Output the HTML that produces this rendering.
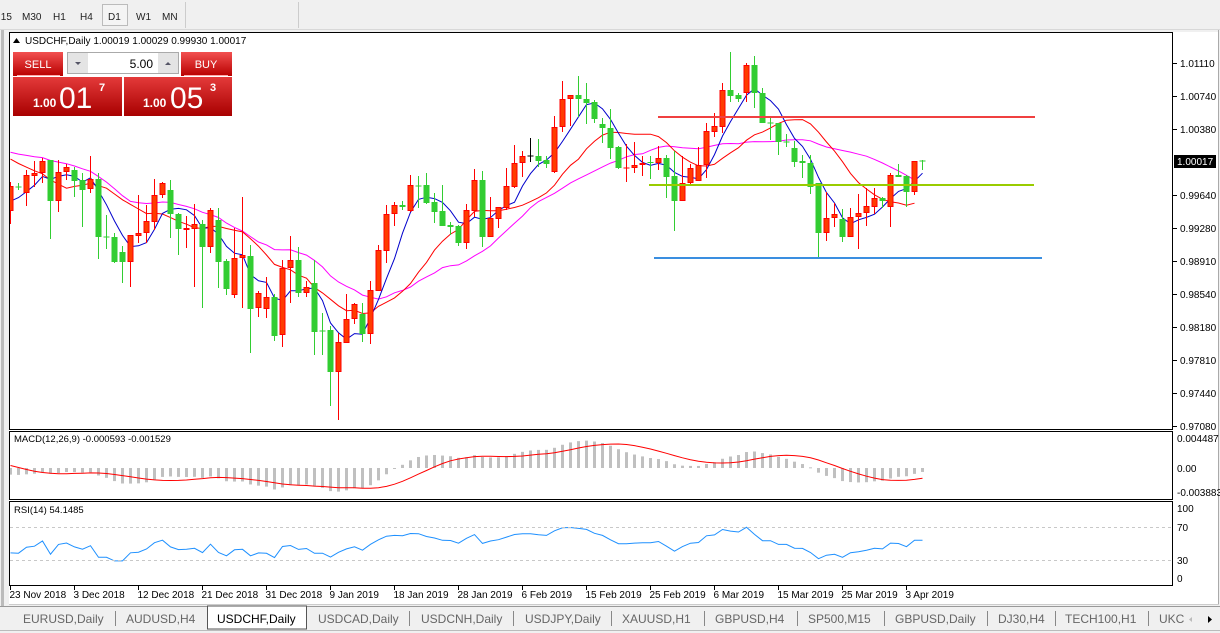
<!DOCTYPE html>
<html><head><meta charset="utf-8"><style>
html,body{margin:0;padding:0;background:#f0f0f0;width:1220px;height:633px;overflow:hidden}
svg{display:block}
text{font-family:"Liberation Sans",sans-serif}
</style></head><body>
<svg id="s" width="1220" height="633" xmlns="http://www.w3.org/2000/svg">
<rect x="0" y="0" width="1220" height="633" fill="#f0f0f0"/>
<rect x="0" y="0" width="1220" height="29" fill="#f0f0f0"/>
<line x1="0" y1="29.5" x2="1220" y2="29.5" stroke="#d8d8d8"/>
<g font-size="10" fill="#222">
<text x="-2" y="20">I15</text><text x="22" y="20">M30</text><text x="53" y="20">H1</text><text x="80" y="20">H4</text>
<rect x="102.5" y="4.5" width="25" height="21" fill="#f4f4f4" stroke="#bbb"/><text x="108" y="20">D1</text>
<text x="136" y="20">W1</text><text x="162" y="20">MN</text></g>
<line x1="185.5" y1="2" x2="185.5" y2="28" stroke="#ccc"/>
<line x1="298.5" y1="2" x2="298.5" y2="28" stroke="#ccc"/>
<rect x="9" y="32" width="1210" height="572" fill="#fff"/>
<line x1="2.5" y1="30" x2="2.5" y2="606" stroke="#bbb" stroke-width="3"/>
<line x1="1218.5" y1="30" x2="1218.5" y2="604" stroke="#aaa"/>
<g fill="none" stroke="#000">
<rect x="9.5" y="32.5" width="1163" height="397"/>
<rect x="9.5" y="431.5" width="1163" height="68"/>
<rect x="9.5" y="501.5" width="1163" height="84"/>
</g>
<line x1="9" y1="604.5" x2="1219" y2="604.5" stroke="#ccc"/>
<g id="plot"></g>
<line x1="658" y1="117" x2="1035" y2="117" stroke="#f04040" stroke-width="2"/>
<line x1="649" y1="185" x2="1034" y2="185" stroke="#99cc00" stroke-width="2"/>
<line x1="654" y1="258" x2="1042" y2="258" stroke="#3a8ee0" stroke-width="2"/>
<path d="M13 43 L16.5 38 L20 43 Z" fill="#000"/>
<text x="25" y="44" font-size="10" fill="#000">USDCHF,Daily  1.00019 1.00029 0.99930 1.00017</text>
<defs>
<linearGradient id="rg" x1="0" y1="0" x2="0" y2="1"><stop offset="0" stop-color="#f25050"/><stop offset="1" stop-color="#b80000"/></linearGradient>
<linearGradient id="rg2" x1="0" y1="0" x2="0" y2="1"><stop offset="0" stop-color="#e43a3a"/><stop offset="1" stop-color="#a80000"/></linearGradient>
<clipPath id="cm"><rect x="10" y="33" width="1162" height="396"/></clipPath>
<clipPath id="cd"><rect x="10" y="432" width="1162" height="67"/></clipPath>
<clipPath id="cr"><rect x="10" y="502" width="1162" height="83"/></clipPath>
</defs>
<rect x="13" y="52" width="50" height="24" fill="url(#rg)"/>
<rect x="181" y="52" width="51" height="24" fill="url(#rg)"/>
<line x1="17" y1="75.5" x2="60" y2="75.5" stroke="#ffaaaa"/>
<line x1="184" y1="75.5" x2="228" y2="75.5" stroke="#ffaaaa"/>
<text x="38" y="68" font-size="11" fill="#fff" text-anchor="middle">SELL</text>
<text x="206" y="68" font-size="11" fill="#fff" text-anchor="middle">BUY</text>
<rect x="67.5" y="52.5" width="111" height="21" fill="#fff" stroke="#aaa"/>
<rect x="68" y="53" width="20" height="20" fill="#e4e4e4"/>
<rect x="158" y="53" width="20" height="20" fill="#e4e4e4"/>
<path d="M75 62 L81 62 L78 65Z" fill="#556"/><path d="M165 65 L171 65 L168 62Z" fill="#556"/>
<text x="153" y="68" font-size="12" fill="#000" text-anchor="end">5.00</text>
<rect x="13" y="77" width="109" height="39" fill="url(#rg2)"/>
<rect x="124" y="77" width="108" height="39" fill="url(#rg2)"/>
<g fill="#fff"><text x="33" y="107" font-size="12" font-weight="bold">1.00</text>
<text x="59" y="108" font-size="30">01</text><text x="99" y="91" font-size="11" font-weight="bold">7</text>
<text x="143" y="107" font-size="12" font-weight="bold">1.00</text>
<text x="170" y="108" font-size="30">05</text><text x="210" y="91" font-size="11" font-weight="bold">3</text></g>
<g font-size="10" fill="#000" id="ax"></g>
<rect x="1174" y="155" width="42" height="13" fill="#000"/>
<text x="1177" y="165" font-size="10" fill="#fff">1.00017</text>
<text x="14" y="442" font-size="9.5" fill="#000">MACD(12,26,9) -0.000593 -0.001529</text>
<text x="14" y="513" font-size="9.5" fill="#000">RSI(14) 54.1485</text>
<g stroke="#c8c8c8" stroke-dasharray="3,3"><line x1="10" y1="527.5" x2="1172" y2="527.5"/><line x1="10" y1="560.5" x2="1172" y2="560.5"/></g>
<g font-size="10" fill="#000">
<text x="1177" y="442">0.004487</text><text x="1177" y="472">0.00</text><text x="1177" y="496">-0.003883</text>
<text x="1177" y="512">100</text><text x="1177" y="531">70</text><text x="1177" y="564">30</text><text x="1177" y="582">0</text></g>
<g id="dates" font-size="10" fill="#000"></g>
<rect x="0" y="606" width="1220" height="27" fill="#f0f0f0"/>
<line x1="0" y1="606.5" x2="1220" y2="606.5" stroke="#999"/>
<line x1="0" y1="630.5" x2="1220" y2="630.5" stroke="#bbb"/>
<rect x="207.5" y="606" width="99" height="23" fill="#fff" stroke="#555"/>
<g font-size="12" fill="#666">
<text x="23" y="623">EURUSD,Daily</text><text x="126" y="623">AUDUSD,H4</text>
<text x="217" y="623" fill="#000">USDCHF,Daily</text><text x="318" y="623">USDCAD,Daily</text>
<text x="421" y="623">USDCNH,Daily</text><text x="525" y="623">USDJPY,Daily</text>
<text x="622" y="623">XAUUSD,H1</text><text x="715" y="623">GBPUSD,H4</text>
<text x="808" y="623">SP500,M15</text><text x="895" y="623">GBPUSD,Daily</text>
<text x="998" y="623">DJ30,H4</text><text x="1065" y="623">TECH100,H1</text><text x="1159" y="623">UKC</text></g>
<g stroke="#888"><line x1="115.5" y1="611" x2="115.5" y2="626"/><line x1="409.5" y1="611" x2="409.5" y2="626"/><line x1="513.5" y1="611" x2="513.5" y2="626"/><line x1="611.5" y1="611" x2="611.5" y2="626"/><line x1="704.5" y1="611" x2="704.5" y2="626"/><line x1="797.5" y1="611" x2="797.5" y2="626"/><line x1="884.5" y1="611" x2="884.5" y2="626"/><line x1="987.5" y1="611" x2="987.5" y2="626"/><line x1="1055.5" y1="611" x2="1055.5" y2="626"/><line x1="1148.5" y1="611" x2="1148.5" y2="626"/></g>
<path d="M1192 617 L1189 619.5 L1192 622Z" fill="#bbb"/><path d="M1208 616 L1212 619.5 L1208 623Z" fill="#000"/>
</svg>
<script>
var D=[
['r',186,211,182,224],['g',187,187,183,190],['r',175,193,170,206],['r',173,176,161,187],['r',161,173,158,183],['g',160,201,160,239],['r',172,201,160,212],['r',167,172,164,180],['g',170,181,167,197],['g',180,190,173,227],
['r',179,189,156,193],['g',179,237,173,259],['g',237,237,215,249],['g',237,262,233,263],['g',252,262,246,283],['r',235,262,235,287],['r',233,236,195,243],['r',221,233,205,243],['r',195,222,179,230],['r',183,195,182,198],
['g',190,214,180,238],['g',214,229,213,255],['r',228,230,216,248],['r',224,229,204,287],['g',224,247,220,308],['r',210,247,208,253],['g',220,262,208,288],['g',261,289,259,295],['r',258,295,228,298],['r',255,258,197,308],
['g',256,309,245,353],['r',293,308,291,317],['r',297,309,277,318],['g',297,336,294,341],['r',268,335,260,347],['r',260,268,236,303],['g',260,293,247,297],['r',287,293,281,297],['g',283,332,260,355],['g',331,331,313,355],
['g',330,372,326,406],['r',342,372,333,420],['r',319,343,294,343],['r',304,319,303,324],['g',314,334,303,342],['r',290,334,281,344],['r',250,291,245,291],['r',214,251,205,263],['r',205,214,202,226],['g',205,207,201,210],
['r',185,211,175,212],['g',186,186,176,208],['g',185,203,173,204],['g',202,212,193,223],['g',211,226,185,226],['g',225,227,222,235],['g',226,243,225,246],['r',210,243,204,249],['r',180,211,169,217],['g',180,237,171,247],
['r',218,237,197,237],['r',207,219,207,228],['r',186,208,168,210],['r',163,187,145,188],['r',156,163,151,177],['k',156,156,138,162],['g',156,161,139,167],['g',160,164,156,168],['r',127,172,116,173],['r',99,127,81,132],
['r',95,99,95,126],['g',95,99,76,117],['g',99,103,83,124],['g',102,119,100,123],['g',124,128,118,143],['g',128,148,109,159],['g',147,168,146,169],['r',168,168,144,182],['r',165,168,142,173],['r',163,165,156,176],
['g',162,163,156,179],['r',158,163,146,170],['g',158,177,155,198],['g',176,201,151,231],['r',183,201,156,201],['r',168,183,164,184],['r',165,181,147,181],['r',131,165,123,178],['r',126,132,113,137],['r',90,127,83,133],
['g',90,96,52,102],['g',95,99,93,102],['r',65,93,63,102],['g',65,93,56,108],['g',93,123,88,123],['g',123,123,118,140],['g',123,142,123,155],['g',142,142,134,147],['g',148,162,141,167],['g',161,163,155,178],
['g',163,187,155,194],['g',183,233,183,259],['r',218,233,192,241],['r',214,218,203,227],['g',219,237,209,242],['r',217,237,208,237],['r',213,217,194,249],['r',206,213,188,226],['r',198,207,188,214],['g',198,201,197,208],
['r',175,207,173,227],['g',175,177,164,177],['g',176,192,175,207],['r',161,192,161,195],['g',161,161,160,170]];
var NS='http://www.w3.org/2000/svg';
function el(t,a,p){var e=document.createElementNS(NS,t);for(var k in a)e.setAttribute(k,a[k]);(p||document.getElementById('plot')).appendChild(e);return e;}
function X(i){return 10.5+8*i;}
var closes=D.map(function(d){return d[0]=='g'?d[2]:d[1];});
var seed=[];for(var i=0;i<40;i++)seed.push(i<35?200-85*i/34:205);
var all=seed.concat(closes),S=seed.length;
var gm=el('g',{'clip-path':'url(#cm)'});
function sma(n){var r=[];for(var i=0;i<closes.length;i++){var s=0;for(var j=0;j<n;j++)s+=all[S+i-j];r.push(s/n);}return r;}
function poly(arr,col,g,f,cnt){var p=[];for(var i=0;i<(cnt||arr.length);i++)p.push(X(i)+','+(f?f(arr[i]):arr[i]).toFixed(1));el('polyline',{points:p.join(' '),fill:'none',stroke:col,'stroke-width':1},g);}
poly(sma(21),'#ff00ff',gm,null,114);poly(sma(13),'#ff0000',gm,null,114);poly(sma(5),'#0000cc',gm);
D.forEach(function(d,i){var x=X(i);var c=d[0]=='r'?'#ff0000':(d[0]=='g'?'#32cd32':'#000');
el('line',{x1:x,y1:d[3],x2:x,y2:d[4],stroke:c},gm);
var h=Math.max(d[2]-d[1],1);
if(d[2]-d[1]<1){el('line',{x1:x-3,y1:d[1],x2:x+3,y2:d[1],stroke:c},gm);}
else if(d[0]=='r')el('rect',{x:x-2.5,y:d[1]+.5,width:5,height:h-1,fill:'#ff3c00',stroke:'#ff0000'},gm);
else el('rect',{x:x-3,y:d[1],width:6,height:h,fill:'#32cd32'},gm);});
var P=all.map(function(y){return 1.01110-(y-63)/9007;});
var e12=P[0],e26=P[0],m=[];var a12=2/13,a26=2/27;
for(var i=0;i<P.length;i++){e12=P[i]*a12+e12*(1-a12);e26=P[i]*a26+e26*(1-a26);m.push(e12-e26);}
var sig=[];for(var i=0;i<P.length;i++){var s=0,n=0;for(var j=Math.max(0,i-8);j<=i;j++){s+=m[j];n++;}sig.push(s/n);}
var gd=el('g',{'clip-path':'url(#cd)'});
function MY(v){return 468-v*6686;}
for(var i=0;i<closes.length;i++){var v=m[S+i];var y=MY(v);el('rect',{x:X(i)-1.5,y:Math.min(y,468),width:3,height:Math.max(Math.abs(y-468),1),fill:'#c0c0c0'},gd);}
poly(sig.slice(S),'#ff0000',gd,MY);
var ag=0,al=0,r=[];
for(var i=1;i<P.length;i++){var ch=P[i]-P[i-1];var g=ch>0?ch:0,l=ch<0?-ch:0;ag=(ag*13+g)/14;al=(al*13+l)/14;r.push(al==0?100:100-100/(1+ag/al));}
var rs=r.slice(S-1);
var gr=el('g',{'clip-path':'url(#cr)'});
poly(rs,'#1e90ff',gr,function(v){return 585-0.825*v;});
var ax=document.getElementById('ax');
[['1.01110',63],['1.00740',96],['1.00380',129],['0.99640',195],['0.99280',228],['0.98910',261],['0.98540',294],['0.98180',327],['0.97810',360],['0.97440',393],['0.97080',426]].forEach(function(t){
el('line',{x1:1173,y1:t[1]+.5,x2:1177,y2:t[1]+.5,stroke:'#000'},ax);var e=el('text',{x:1180,y:t[1]+4},ax);e.textContent=t[0];});
var dg=document.getElementById('dates');
['23 Nov 2018','3 Dec 2018','12 Dec 2018','21 Dec 2018','31 Dec 2018','9 Jan 2019','18 Jan 2019','28 Jan 2019','6 Feb 2019','15 Feb 2019','25 Feb 2019','6 Mar 2019','15 Mar 2019','25 Mar 2019','3 Apr 2019'].forEach(function(t,k){
var x=10.5+64*k;el('line',{x1:x,y1:586,x2:x,y2:590,stroke:'#000'},dg);var e=el('text',{x:x-1,y:598},dg);e.textContent=t;});
</script>
</body></html>
